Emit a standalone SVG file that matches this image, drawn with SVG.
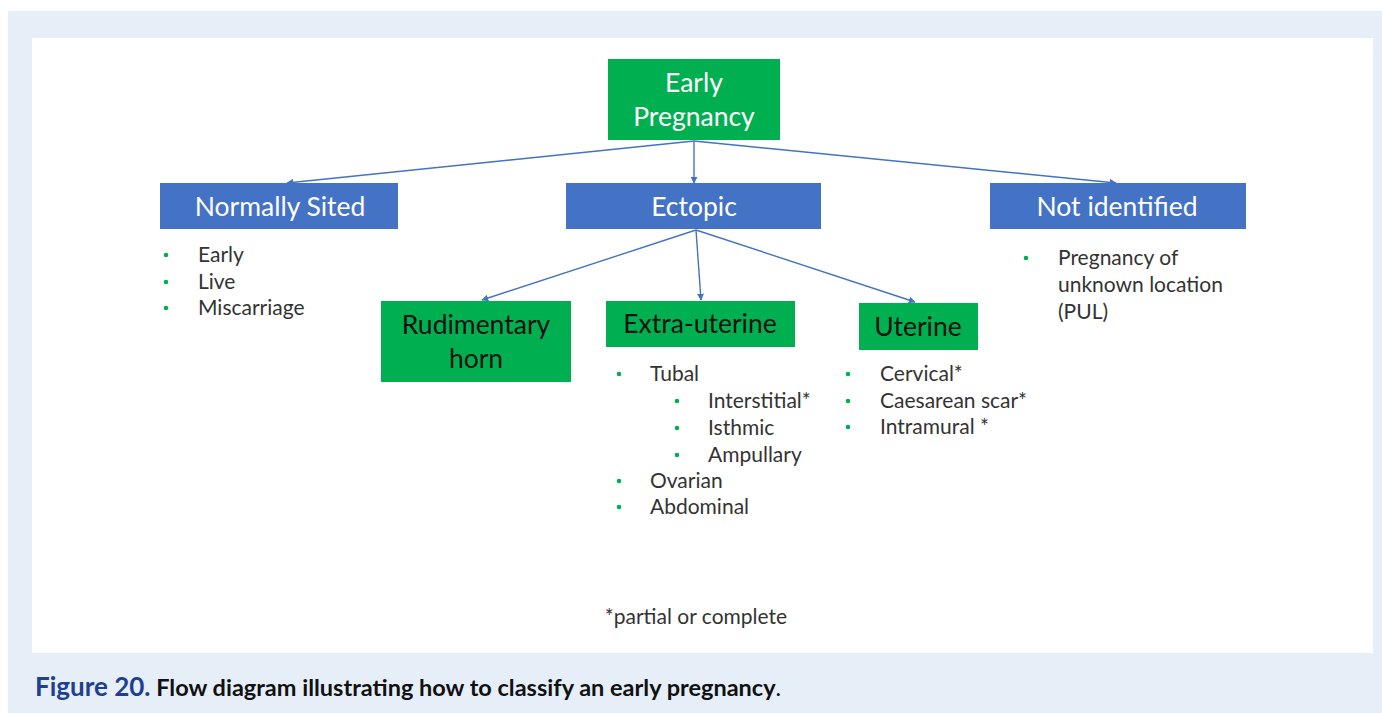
<svg xmlns="http://www.w3.org/2000/svg" width="1382" height="713" viewBox="0 0 1382 713">
<defs>
<marker id="ah" viewBox="0 0 10 10" refX="9" refY="5" markerWidth="7" markerHeight="7" orient="auto" markerUnits="userSpaceOnUse">
<path d="M0,0 L10,5 L0,10 z" fill="#4472c4"/>
</marker>
<style>
.blue{fill:#4472c4}
.green{fill:#00b050}
.bt{font-family:Lato,"Liberation Sans",sans-serif;font-size:26.5px;text-anchor:middle}
.w{fill:#ffffff}
.k{fill:#111111}
.li{font-family:Lato,"Liberation Sans",sans-serif;font-size:21px;fill:#333333}
.bul{fill:#00b050}
.con{stroke:#4472c4;stroke-width:1.4;fill:none;marker-end:url(#ah)}
</style>
</defs>
<rect x="0" y="0" width="1382" height="713" fill="#ffffff"/>
<rect x="8" y="11" width="1374" height="702" fill="#e6eef8"/>
<rect x="32" y="38" width="1341" height="615" fill="#ffffff"/>

<g id="connectors">
<line class="con" x1="694" y1="141" x2="287" y2="183"/>
<line class="con" x1="694" y1="141" x2="694" y2="183"/>
<line class="con" x1="694" y1="141" x2="1116" y2="183"/>
<line class="con" x1="696" y1="230" x2="482" y2="300"/>
<line class="con" x1="696" y1="230" x2="701" y2="300"/>
<line class="con" x1="696" y1="230" x2="915" y2="302"/>
</g>

<g id="early-pregnancy">
<rect class="green" x="608" y="59" width="172" height="81"/>
<text class="bt w" x="694" y="92">Early</text>
<text class="bt w" x="694" y="126">Pregnancy</text>
</g>

<g id="normally-sited">
<rect class="blue" x="160" y="183" width="238" height="46"/>
<text class="bt w" x="280" y="216">Normally Sited</text>
<circle class="bul" cx="166" cy="255" r="2.3"/>
<text class="li" x="198" y="262">Early</text>
<circle class="bul" cx="166" cy="282" r="2.3"/>
<text class="li" x="198" y="289">Live</text>
<circle class="bul" cx="166" cy="308" r="2.3"/>
<text class="li" x="198" y="315">Miscarriage</text>
</g>

<g id="ectopic">
<rect class="blue" x="566" y="183" width="255" height="46"/>
<text class="bt w" x="694" y="216">Ectopic</text>
</g>

<g id="not-identified">
<rect class="blue" x="990" y="183" width="256" height="46"/>
<text class="bt w" x="1117" y="216">Not identified</text>
<circle class="bul" cx="1026" cy="258" r="2.3"/>
<text class="li" x="1058" y="265">Pregnancy of</text>
<text class="li" x="1058" y="292">unknown location</text>
<text class="li" x="1058" y="319">(PUL)</text>
</g>

<g id="rudimentary-horn">
<rect class="green" x="381" y="301" width="190" height="81"/>
<text class="bt k" x="476" y="334">Rudimentary</text>
<text class="bt k" x="476" y="368">horn</text>
</g>

<g id="extra-uterine">
<rect class="green" x="606" y="301" width="189" height="46"/>
<text class="bt k" x="700" y="333">Extra-uterine</text>
<circle class="bul" cx="619" cy="374" r="2.3"/>
<text class="li" x="650" y="381">Tubal</text>
<circle class="bul" cx="677" cy="401" r="2.3"/>
<text class="li" x="708" y="408">Interstitial*</text>
<circle class="bul" cx="677" cy="428" r="2.3"/>
<text class="li" x="708" y="435">Isthmic</text>
<circle class="bul" cx="677" cy="455" r="2.3"/>
<text class="li" x="708" y="462">Ampullary</text>
<circle class="bul" cx="619" cy="481" r="2.3"/>
<text class="li" x="650" y="488">Ovarian</text>
<circle class="bul" cx="619" cy="507" r="2.3"/>
<text class="li" x="650" y="514">Abdominal</text>
</g>

<g id="uterine">
<rect class="green" x="859" y="303" width="119" height="47"/>
<text class="bt k" x="918" y="336">Uterine</text>
<circle class="bul" cx="848" cy="374" r="2.3"/>
<text class="li" x="880" y="381">Cervical*</text>
<circle class="bul" cx="848" cy="401" r="2.3"/>
<text class="li" x="880" y="408">Caesarean scar*</text>
<circle class="bul" cx="848" cy="427" r="2.3"/>
<text class="li" x="880" y="434">Intramural *</text>
</g>

<text x="696" y="624" font-family="Lato,'Liberation Sans',sans-serif" font-size="21" fill="#333333" text-anchor="middle">*partial or complete</text>

<text x="35" y="696" font-family="Lato,'Liberation Sans',sans-serif" font-size="23.5" font-weight="bold" fill="#111111"><tspan fill="#1f3f8f" font-size="26">Figure 20.</tspan> Flow diagram illustrating how to classify an early pregnancy<tspan font-weight="normal">.</tspan></text>
</svg>
